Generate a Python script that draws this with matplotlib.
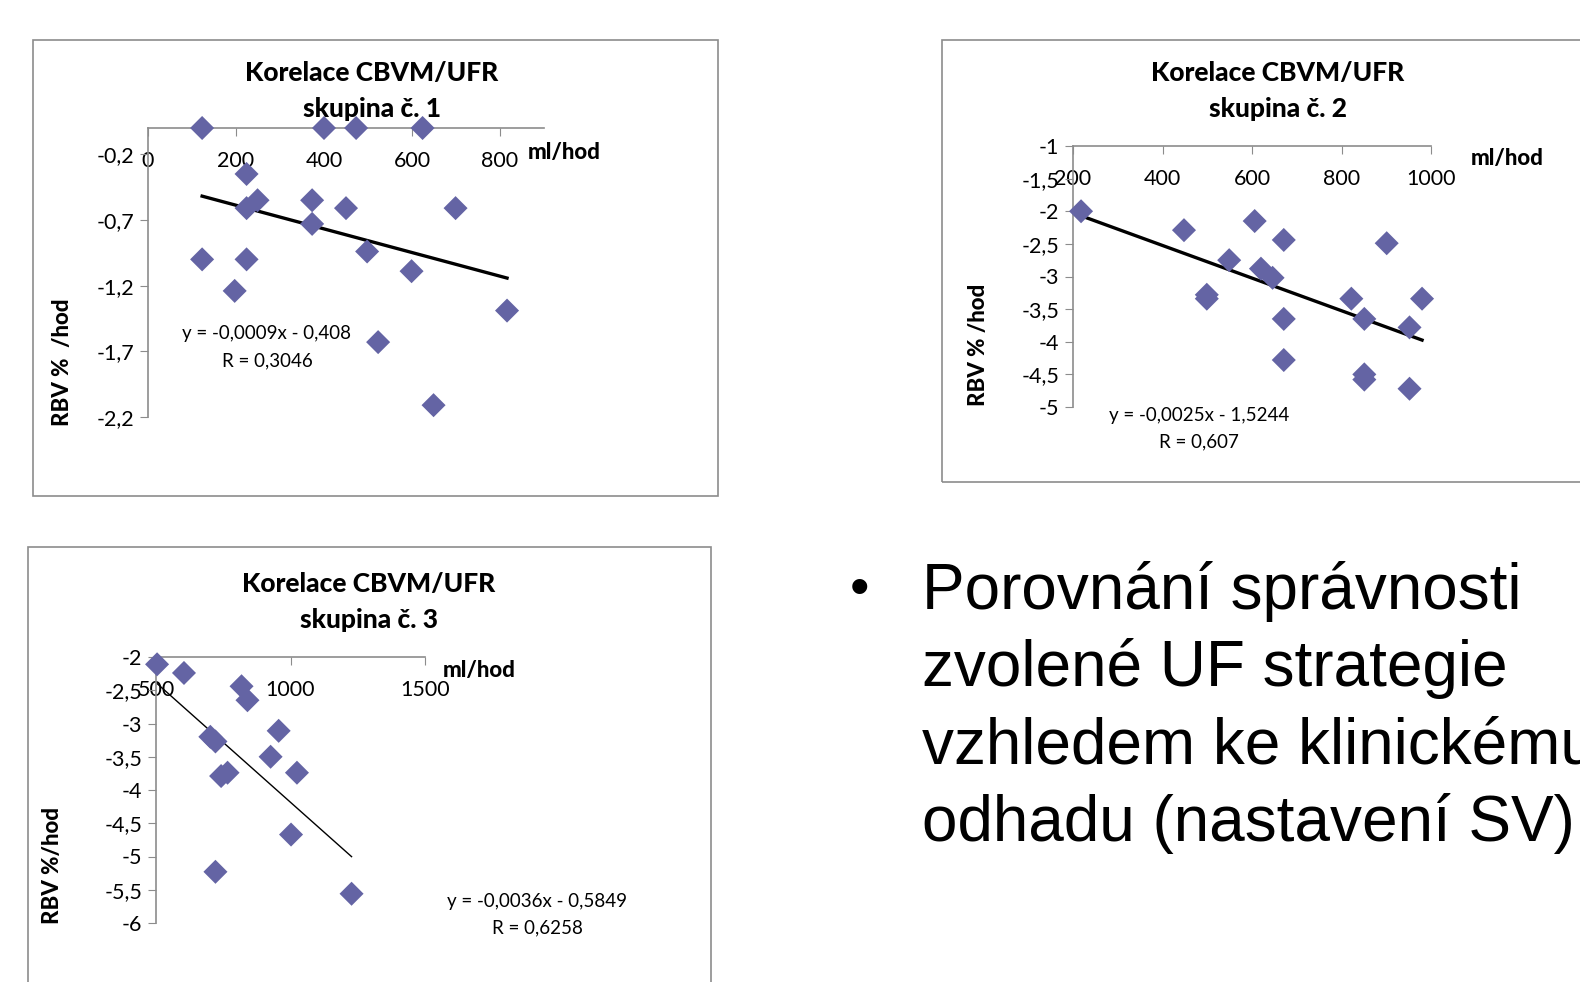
import numpy as np
import matplotlib
matplotlib.use("Agg")
import matplotlib.pyplot as plt
from matplotlib.patches import Rectangle
from matplotlib.ticker import FuncFormatter

W, H = 1580, 982

# ---- data: group 1 ----
g1_x = [123, 400, 473, 624, 224, 224, 249, 373, 373, 450, 699, 123, 224, 197, 498, 599, 816, 523, 649]
g1_y = [0.0, 0.0, 0.0, 0.0, -0.35, -0.61, -0.55, -0.55, -0.73, -0.61, -0.61, -1.0, -1.0, -1.24, -0.94, -1.09, -1.39, -1.63, -2.11]
g1_fit = (-0.0009, -0.408)
g1_eq = ["y = -0,0009x - 0,408", "R = 0,3046"]

# ---- data: group 2 ----
g2_x = [218, 448, 606, 671, 901, 549, 620, 646, 499, 499, 822, 980, 671, 851, 952, 671, 851, 851, 952]
g2_y = [-2.0, -2.29, -2.15, -2.44, -2.49, -2.75, -2.88, -3.02, -3.28, -3.34, -3.34, -3.34, -3.65, -3.65, -3.78, -4.28, -4.5, -4.58, -4.72]
g2_fit = (-0.0025, -1.5244)
g2_eq = ["y = -0,0025x - 1,5244", "R = 0,607"]

# ---- data: group 3 ----
g3_x = [504, 604, 818, 840, 956, 702, 721, 926, 766, 742, 1024, 1002, 721, 1227]
g3_y = [-2.11, -2.24, -2.44, -2.65, -3.11, -3.2, -3.27, -3.5, -3.74, -3.79, -3.74, -4.67, -5.23, -5.56]
g3_fit = (-0.0036, -0.5849)
g3_eq = ["y = -0,0036x - 0,5849", "R = 0,6258"]

bullet_lines = ["Porovnání správnosti", "zvolené UF strategie",
                "vzhledem ke klinickému", "odhadu (nastavení SV)"]

MARKER = "#6464a4"
GRID = "#8c8c8c"
plt.rcParams["font.family"] = ["Lato", "DejaVu Sans"]


def px(x, y):
    return x / W, 1 - y / H


def comma(v, pos):
    s = f"{v:g}"
    return s.replace(".", ",")


def chart(fig, frame, box, xlim, ylim, xticks, yticks, xs, ys, fit, eq,
          title_xy, title, unit_xy, eq_xy, ylab_xy, ylab, fit_lw):
    fx0, fy0 = px(frame[0], frame[3])
    fx1, fy1 = px(frame[2], frame[1])
    fig.patches.append(Rectangle((fx0, fy0), fx1 - fx0, fy1 - fy0, transform=fig.transFigure,
                                 fill=False, edgecolor=GRID, lw=1.2, clip_on=False))
    l, b = px(box[0], box[3])
    r, t = px(box[2], box[1])
    ax = fig.add_axes([l, b, r - l, t - b])
    ax.set_xlim(*xlim)
    ax.set_ylim(*ylim)
    for s in ["right", "bottom"]:
        ax.spines[s].set_visible(False)
    for s in ["left", "top"]:
        ax.spines[s].set_color(GRID)
        ax.spines[s].set_linewidth(1.2)
    ax.set_xticks(xticks)
    ax.set_yticks(yticks)
    ax.xaxis.set_major_formatter(FuncFormatter(comma))
    ax.yaxis.set_major_formatter(FuncFormatter(comma))
    ax.tick_params(axis="x", top=True, bottom=False, labeltop=True, labelbottom=False,
                   direction="in", length=6, color=GRID, pad=-31, labelsize=15.5)
    ax.tick_params(axis="y", direction="out", length=6, color=GRID, labelsize=15.5, pad=4)
    ax.patch.set_alpha(0)

    ax.scatter(xs, ys, marker="D", s=150, color=MARKER, edgecolors="none", zorder=3, clip_on=False)
    xx = np.array([min(xs), max(xs)])
    ax.plot(xx, fit[0] * xx + fit[1], color="black", lw=fit_lw, zorder=2, clip_on=False)

    tx, ty = px(*title_xy)
    fig.text(tx, ty, title[0], ha="center", va="center", fontsize=19, fontweight="black")
    fig.text(tx, ty - 36 / H, title[1], ha="center", va="center", fontsize=19, fontweight="black")
    ux, uy = px(*unit_xy)
    fig.text(ux, uy, "ml/hod", ha="center", va="center", fontsize=16, fontweight="black")
    ex, ey = px(*eq_xy)
    fig.text(ex, ey, eq[0], ha="center", va="center", fontsize=13.5)
    fig.text(ex, ey - 27 / H, eq[1], ha="center", va="center", fontsize=13.5)
    lx, ly = px(*ylab_xy)
    fig.text(lx, ly, ylab, ha="center", va="center", rotation=90, fontsize=16, fontweight="black")
    return ax


fig = plt.figure(figsize=(W / 100, H / 100), dpi=100)

chart(fig, (33, 40, 718, 496), (148, 128, 544, 417), (0, 900), (-2.2, 0),
      np.arange(0, 801, 200), np.arange(-2.2, -0.1, 0.5), g1_x, g1_y, g1_fit, g1_eq,
      (372, 73), ["Korelace CBVM/UFR", "skupina č. 1"], (564, 153), (267, 334),
      (63, 362), "RBV %  /hod", 2.4)

chart(fig, (942, 40, 1600, 482), (1073, 146, 1431, 407), (200, 1000), (-5, -1),
      np.arange(200, 1001, 200), np.arange(-5, -0.9, 0.5), g2_x, g2_y, g2_fit, g2_eq,
      (1278, 73), ["Korelace CBVM/UFR", "skupina č. 2"], (1507, 158), (1199, 415),
      (978, 345), "RBV % /hod", 2.4)

chart(fig, (28, 547, 711, 1000), (156, 657, 425, 923), (500, 1500), (-6, -2),
      np.arange(500, 1501, 500), np.arange(-6, -1.9, 0.5), g3_x, g3_y, g3_fit, g3_eq,
      (369, 584), ["Korelace CBVM/UFR", "skupina č. 3"], (479, 670), (537, 901),
      (53, 866), "RBV %/hod", 1.0)

# bullet text on the right
bx, by = px(859, 591)
fig.text(bx, by, "•", ha="center", va="center", fontsize=40,
         family=["Liberation Sans", "DejaVu Sans"])
for i, line in enumerate(bullet_lines):
    x, y = px(922, 591 + i * 77.5)
    fig.text(x, y, line, ha="left", va="center", fontsize=46,
             family=["Liberation Sans", "DejaVu Sans"])

fig.savefig("out.png", dpi=100)
